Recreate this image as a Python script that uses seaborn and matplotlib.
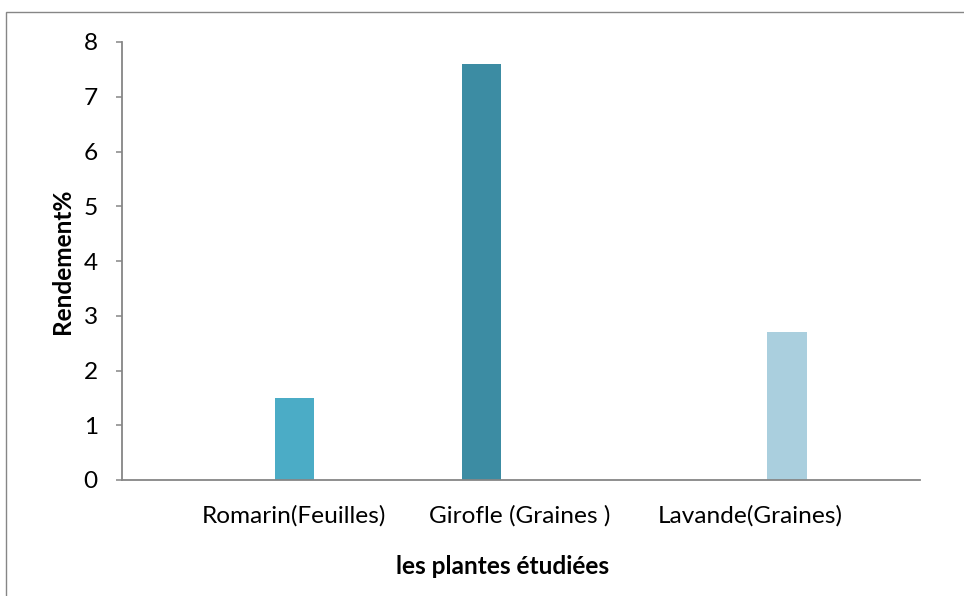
import matplotlib
matplotlib.use("Agg")
import matplotlib.pyplot as plt
from matplotlib.patches import Rectangle
import seaborn as sns
import pandas as pd

# Yield of essential oil per plant
plantes = ["Romarin(Feuilles)", "Girofle (Graines )", "Lavande(Graines)"]
rendement = [1.5, 7.6, 2.7]
series = ["Romarin", "Girofle", "Lavande"]
series_order = ["Girofle", "Lavande", "Romarin"]
couleurs = {"Romarin": "#4BACC6", "Girofle": "#3C8CA3", "Lavande": "#AACFDE"}
yticks = [0, 1, 2, 3, 4, 5, 6, 7, 8]

df = pd.DataFrame({"plante": plantes, "rendement": rendement, "serie": series})

sns.set_theme(style="white")
plt.rcParams["font.family"] = ["Lato", "DejaVu Sans"]

fig = plt.figure(figsize=(9.64, 5.96), dpi=100)
ax = fig.add_axes([122 / 964, 1 - 480 / 596, 798 / 964, 438 / 596])

sns.barplot(data=df, x="plante", y="rendement", hue="serie",
            order=plantes, hue_order=series_order, palette=couleurs,
            dodge=True, width=0.44, gap=0, saturation=1, legend=False,
            errorbar=None, linewidth=0, ax=ax)

ax.set_xlim(-0.5, 2.5)
ax.set_ylim(0, 8)
ax.set_yticks(yticks)
ax.set_yticklabels([str(v) for v in yticks])

# category labels sit at their own spots along the axis
ax.set_xticks([0.147, 0.995, 1.86])
ax.set_xticklabels(plantes)

fs = 17.6
axis_col = "#868686"
for side in ["top", "right"]:
    ax.spines[side].set_visible(False)
for side in ["left", "bottom"]:
    ax.spines[side].set_color(axis_col)
    ax.spines[side].set_linewidth(1.3)

ax.tick_params(axis="y", which="major", direction="out", length=4.5, width=1.1,
               color=axis_col, labelsize=fs, pad=13, labelcolor="black", left=True)
ax.tick_params(axis="x", length=0, labelsize=fs, pad=18, labelcolor="black")

ax.set_ylabel("Rendement%", fontsize=fs, fontweight="bold", color="black")
ax.set_xlabel("les plantes étudiées", fontsize=fs, fontweight="bold", color="black")
ax.yaxis.label.set_va("center")
ax.yaxis.set_label_coords((62 - 122) / 798, 0.5)
ax.xaxis.set_label_coords((503 - 122) / 798, -(555 - 480) / 438)

# chart area frame
fig.patches.append(Rectangle((6 / 964, -0.1), 1.2, 1 - 12 / 596 + 0.1,
                             transform=fig.transFigure, fill=False,
                             edgecolor=axis_col, linewidth=1.0))

fig.savefig("out.png", dpi=100)
